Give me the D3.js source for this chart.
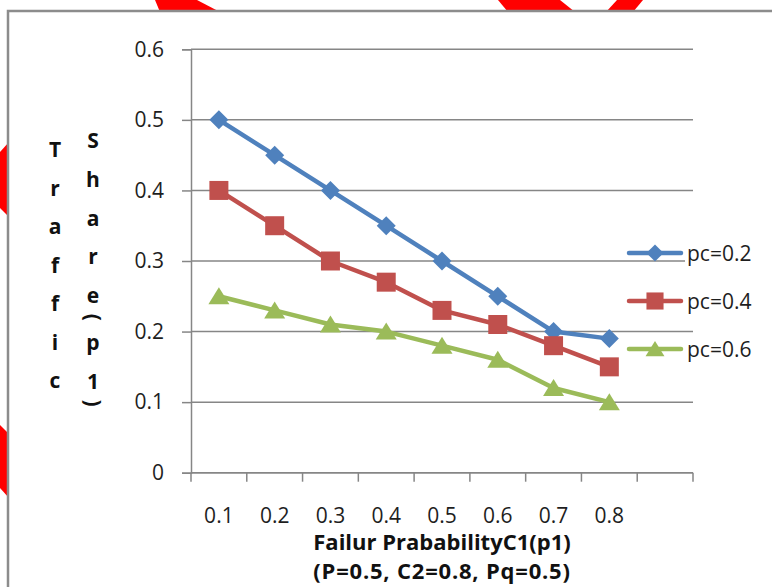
<!DOCTYPE html>
<html>
<head>
<meta charset="utf-8">
<script src="https://cdn.jsdelivr.net/npm/d3@7"></script>
<style>
  body { margin: 0; background: #fff; }
  svg { display: block; }
</style>
</head>
<body>
<div id="chart"></div>
<script>
// data
const categories = ["0.1", "0.2", "0.3", "0.4", "0.5", "0.6", "0.7", "0.8"];
const seriesNames = ["pc=0.2", "pc=0.4", "pc=0.6"];
const pc02 = [0.5, 0.45, 0.4, 0.35, 0.3, 0.25, 0.2, 0.19];
const pc04 = [0.4, 0.35, 0.3, 0.27, 0.23, 0.21, 0.18, 0.15];
const pc06 = [0.25, 0.23, 0.21, 0.2, 0.18, 0.16, 0.12, 0.1];
const yTicks = [0, 0.1, 0.2, 0.3, 0.4, 0.5, 0.6];
const yLabelCols = ["Traffic", "Share(p1)"];
const xTitle = ["Failur PrababilityC1(p1)", "(P=0.5, C2=0.8, Pq=0.5)"];

const W = 772, H = 587;
const plot = {left: 191, right: 693, top: 49.3, bottom: 472.7};
const font = "'Open Sans', 'Noto Sans', sans-serif";
const gridColor = "#868686";

const series = [
    {name: seriesNames[0], values: pc02, color: "#4F81BD", marker: "diamond"},
    {name: seriesNames[1], values: pc04, color: "#C0504D", marker: "square"},
    {name: seriesNames[2], values: pc06, color: "#9BBB59", marker: "triangle"}
];

const svg = d3.select("#chart")
    .append("svg")
    .attr("width", W)
    .attr("height", H);

// red shapes peeking out behind the frame
const redShapes = [
    [[155, 0], [197, 0], [220, 12], [160, 12]],
    [[498, 0], [560, 0], [575, 12], [508, 12]],
    [[617, 0], [643, 0], [633, 12], [606, 12]],
    [[0, 152], [9, 142], [9, 217], [0, 208]],
    [[0, 425], [9, 434], [9, 498], [0, 488]]
];
svg.selectAll("polygon.red")
    .data(redShapes)
    .enter().append("polygon")
    .attr("points", d => d.map(p => p.join(",")).join(" "))
    .attr("fill", "#FF0000");

// chart frame
svg.append("rect")
    .attr("x", 8)
    .attr("y", 11)
    .attr("width", 900)
    .attr("height", 700)
    .attr("fill", "#fff")
    .attr("stroke", "#8c8c8c")
    .attr("stroke-width", 2.5);

const xScale = d3.scaleBand()
    .domain(categories.concat([""]))   // excel left one empty slot at the end
    .range([plot.left, plot.right]);

const yScale = d3.scaleLinear()
    .domain([0, 0.6])
    .range([plot.bottom, plot.top]);

// gridlines
svg.append("g")
    .selectAll("line")
    .data(yTicks)
    .enter().append("line")
    .attr("x1", plot.left)
    .attr("x2", plot.right)
    .attr("y1", d => yScale(d))
    .attr("y2", d => yScale(d))
    .attr("stroke", gridColor)
    .attr("stroke-width", 1.5);

// y axis
const yAxis = svg.append("g")
    .attr("transform", `translate(${plot.left},0)`)
    .call(d3.axisLeft(yScale).tickValues(yTicks).tickSize(9).tickPadding(18)
        .tickFormat(d => String(d)));
yAxis.select(".domain").attr("stroke", gridColor).attr("stroke-width", 1.5);
yAxis.selectAll(".tick line").attr("stroke", gridColor).attr("stroke-width", 1.5);
yAxis.selectAll("text")
    .attr("font-family", font)
    .attr("font-size", 21)
    .attr("fill", "#1e1e1e");

// x axis: labels at band centres, ticks at the band edges
const xAxis = svg.append("g")
    .attr("transform", `translate(0,${plot.bottom})`)
    .call(d3.axisBottom(xScale).tickSize(0).tickPadding(35));
xAxis.select(".domain").remove();
xAxis.selectAll("text")
    .attr("font-family", font)
    .attr("font-size", 21)
    .attr("fill", "#1e1e1e");

svg.append("line")
    .attr("x1", plot.left).attr("x2", plot.right)
    .attr("y1", plot.bottom).attr("y2", plot.bottom)
    .attr("stroke", gridColor).attr("stroke-width", 1.5);

const edges = xScale.domain().map(d => xScale(d)).concat([plot.right]);
svg.append("g")
    .selectAll("line")
    .data(edges)
    .enter().append("line")
    .attr("x1", d => d).attr("x2", d => d)
    .attr("y1", plot.bottom).attr("y2", plot.bottom + 9)
    .attr("stroke", gridColor)
    .attr("stroke-width", 1.5);

// marker shapes
function markerPath(type) {
    if (type === "diamond") return "M0,-9.5L9.5,0L0,9.5L-9.5,0Z";
    if (type === "square") return "M-9.5,-9.5H9.5V9.5H-9.5Z";
    return "M0,-9L10.5,8H-10.5Z";
}

const cx = d => xScale(d) + xScale.bandwidth() / 2;

const line = d3.line()
    .x((d, i) => cx(categories[i]))
    .y(d => yScale(d));

series.forEach(s => {
    svg.append("path")
        .datum(s.values)
        .attr("d", line)
        .attr("fill", "none")
        .attr("stroke", s.color)
        .attr("stroke-width", 4.5)
        .attr("stroke-linejoin", "round")
        .attr("stroke-linecap", "round");

    svg.append("g")
        .selectAll("path")
        .data(s.values)
        .enter().append("path")
        .attr("d", markerPath(s.marker))
        .attr("transform", (d, i) => `translate(${cx(categories[i])},${yScale(d)})`)
        .attr("fill", s.color);
});

// legend
const legendY = [253, 301, 349];
const legend = svg.append("g")
    .selectAll("g")
    .data(series)
    .enter().append("g")
    .attr("transform", (d, i) => `translate(0,${legendY[i]})`);

legend.append("rect")
    .attr("x", 685)
    .attr("y", -14)
    .attr("width", 80)
    .attr("height", 28)
    .attr("fill", "#fff");

legend.append("line")
    .attr("x1", 629).attr("x2", 681)
    .attr("stroke", d => d.color)
    .attr("stroke-width", 4.5)
    .attr("stroke-linecap", "round");

legend.append("path")
    .attr("d", d => markerPath(d.marker))
    .attr("transform", "translate(655,0) scale(0.9)")
    .attr("fill", d => d.color);

legend.append("text")
    .attr("x", 687)
    .attr("dy", "0.36em")
    .attr("font-family", font)
    .attr("font-size", 21)
    .attr("fill", "#1e1e1e")
    .text(d => d.name);

// x title, two lines
svg.append("g")
    .selectAll("text")
    .data(xTitle)
    .enter().append("text")
    .attr("x", (plot.left + plot.right) / 2)
    .attr("y", (d, i) => 550 + i * 29)
    .attr("text-anchor", "middle")
    .attr("font-family", font)
    .attr("font-weight", "bold")
    .attr("font-size", 22)
    .attr("letter-spacing", (d, i) => i === 1 ? 0.8 : 0)
    .attr("fill", "#111")
    .text(d => d);

// y title: characters stacked in two columns, brackets turned sideways
const colX = [55, 93];
const colStart = [157, 148];
const colStep = [38.5, 38.8];
yLabelCols.forEach((word, c) => {
    let y = colStart[c];
    let afterParen = false;
    word.split("").forEach((ch, i) => {
        const g = svg.append("text")
            .attr("font-family", font)
            .attr("font-weight", "bold")
            .attr("font-size", 21)
            .attr("fill", "#111")
            .attr("text-anchor", "middle")
            .text(ch);
        if (ch === "(" || ch === ")") {
            g.attr("dy", "0.35em")
             .attr("transform", `translate(${colX[c]},${y + 14}) rotate(90)`);
            afterParen = true;
        } else {
            if (i > 0) y += afterParen ? 47 : colStep[c];
            afterParen = false;
            g.attr("x", colX[c]).attr("y", y);
        }
    });
});
</script>
</body>
</html>
